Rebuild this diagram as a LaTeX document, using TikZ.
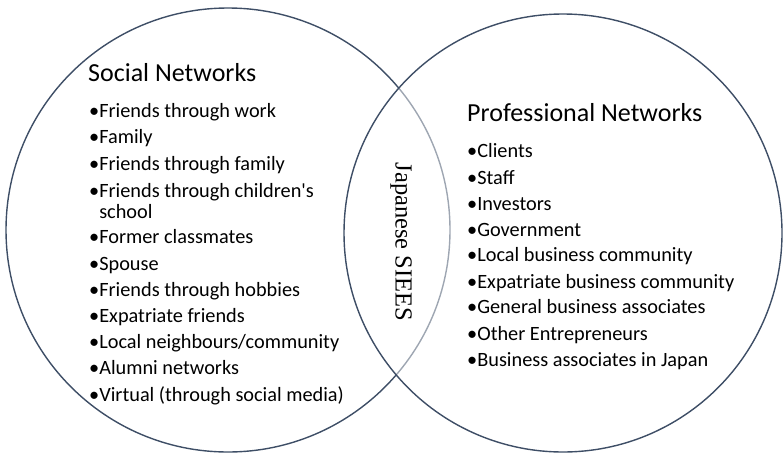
\documentclass[tikz,border=0pt]{standalone}
\usepackage{fontspec}
\setmainfont{Carlito}
\newfontfamily\serifface{Liberation Serif}
\definecolor{ringline}{HTML}{3E4E66}
\begin{document}
\begin{tikzpicture}[x=1pt,y=-1pt,
  ring/.style={draw=ringline,line width=1.4pt},
  heading/.style={anchor=base west,inner sep=0pt,font=\fontsize{26}{30}\selectfont},
  entry/.style={anchor=base west,inner sep=0pt,font=\fontsize{20.3}{24}\selectfont}]
\useasboundingbox (0,0) rectangle (783,455);

% the two overlapping sets
\draw[ring] (228,230) circle[radius=222];
\draw[ring,fill=white,fill opacity=0.5] (563,233) circle[radius=219];

% social side
\node[heading] (soc) at (88,81.5) {Social Networks};
\foreach \txt/\yy [count=\i] in {
  {•Friends through work}/117,
  {•Family}/143.7,
  {•Friends through family}/170.4,
  {•Friends through children\textquotesingle s}/197,
  {\phantom{•}school}/218.7,
  {•Former classmates}/243.5,
  {•Spouse}/270,
  {•Friends through hobbies}/296.5,
  {•Expatriate friends}/322.5,
  {•Local neighbours/community}/348.5,
  {•Alumni networks}/374.5,
  {•Virtual (through social media)}/401}
  \node[entry] (s\i) at (89,\yy) {\txt};

% professional side
\node[heading] (pro) at (467,121.5) {Professional Networks};
\foreach \txt/\yy [count=\i] in {
  {•Clients}/157.7,
  {•Staff}/184,
  {•Investors}/210,
  {•Government}/236,
  {•Local business community}/261.7,
  {•Expatriate business community}/288,
  {•General business associates}/313.5,
  {•Other Entrepreneurs}/340,
  {•Business associates in Japan}/366.5}
  \node[entry] (p\i) at (467,\yy) {\txt};

% shared region
\node[rotate=-90,inner sep=0pt,font=\serifface\fontsize{24.5}{27}\selectfont] (mid) at (401,242) {Japanese SIEES};
\end{tikzpicture}
\end{document}
